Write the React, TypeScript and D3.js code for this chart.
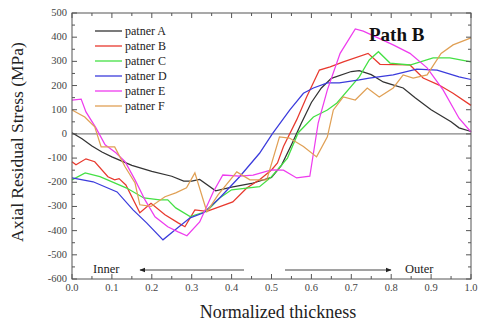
import React from "react";
import * as d3 from "d3";

type Pt = [number, number];

const seriesNames = ["patner A", "patner B", "patner C", "patner D", "patner E", "patner F"];
const seriesColors = ["#333333", "#e8392e", "#44e044", "#3b3bdc", "#ee3cee", "#e0a055"];

const patnerA: Pt[] = [[0,5],[0.025,-20],[0.05,-50],[0.075,-75],[0.1,-95],[0.15,-130],[0.2,-155],[0.25,-175],[0.28,-195],[0.3,-195],[0.32,-188],[0.36,-235],[0.4,-220],[0.45,-205],[0.5,-180],[0.525,-130],[0.55,-45],[0.575,45],[0.6,130],[0.625,190],[0.65,230],[0.7,258],[0.72,262],[0.75,245],[0.78,215],[0.8,205],[0.83,190],[0.86,150],[0.9,100],[0.95,50],[0.97,25],[1,10]];
const patnerB: Pt[] = [[0,-115],[0.01,-128],[0.035,-103],[0.057,-115],[0.09,-177],[0.107,-190],[0.118,-185],[0.135,-211],[0.17,-326],[0.198,-287],[0.233,-334],[0.266,-368],[0.283,-384],[0.308,-314],[0.338,-320],[0.403,-281],[0.438,-224],[0.47,-190],[0.5,-149],[0.515,-120],[0.53,-52],[0.563,58],[0.588,153],[0.62,264],[0.647,277],[0.68,298],[0.742,333],[0.772,288],[0.847,285],[0.88,231],[0.92,202],[0.955,168],[1,118]];
const patnerC: Pt[] = [[0,-190],[0.033,-161],[0.07,-177],[0.137,-224],[0.18,-265],[0.22,-273],[0.24,-273],[0.26,-306],[0.296,-342],[0.338,-320],[0.37,-265],[0.4,-231],[0.47,-218],[0.5,-177],[0.54,-100],[0.567,5],[0.605,70],[0.64,99],[0.664,128],[0.72,236],[0.745,306],[0.768,340],[0.797,293],[0.847,285],[0.905,314],[0.947,314],[1,298]];
const patnerD: Pt[] = [[0,-182],[0.053,-198],[0.113,-240],[0.153,-314],[0.187,-368],[0.228,-438],[0.258,-397],[0.296,-347],[0.33,-326],[0.37,-265],[0.42,-177],[0.47,-80],[0.502,0],[0.546,99],[0.58,168],[0.605,190],[0.64,211],[0.67,211],[0.72,223],[0.745,231],[0.805,244],[0.864,268],[0.915,264],[0.97,236],[1,225]];
const patnerE: Pt[] = [[0,140],[0.023,144],[0.035,91],[0.06,25],[0.083,-45],[0.11,-78],[0.133,-115],[0.158,-190],[0.183,-273],[0.208,-343],[0.24,-384],[0.266,-405],[0.288,-421],[0.32,-364],[0.354,-240],[0.378,-170],[0.42,-175],[0.454,-170],[0.5,-149],[0.53,-150],[0.563,-182],[0.596,-175],[0.617,45],[0.64,182],[0.672,333],[0.71,434],[0.73,425],[0.805,368],[0.847,333],[0.89,273],[0.93,182],[0.97,65],[1,8]];
const patnerF: Pt[] = [[0,99],[0.032,70],[0.057,29],[0.073,-54],[0.107,-54],[0.133,-136],[0.158,-203],[0.17,-293],[0.198,-300],[0.233,-260],[0.26,-244],[0.287,-223],[0.308,-161],[0.338,-322],[0.366,-252],[0.413,-157],[0.446,-190],[0.488,-190],[0.52,-12],[0.545,-17],[0.58,-52],[0.613,-95],[0.64,-12],[0.655,99],[0.68,153],[0.71,140],[0.74,190],[0.77,153],[0.805,190],[0.83,244],[0.855,231],[0.89,244],[0.925,333],[0.955,368],[1,397]];

const allSeries = [patnerA, patnerB, patnerC, patnerD, patnerE, patnerF];

const xTicks = [0, 0.1, 0.2, 0.3, 0.4, 0.5, 0.6, 0.7, 0.8, 0.9, 1.0];
const yTicks = [500, 400, 300, 200, 100, 0, -100, -200, -300, -400, -500, -600];

export default function App() {
  const W = 479, H = 326;
  const left = 72, right = 471, top = 13, bottom = 279;
  const x = d3.scaleLinear().domain([0, 1]).range([left, right]);
  const y = d3.scaleLinear().domain([-600, 500]).range([bottom, top]);
  const line = d3.line<Pt>().x(d => x(d[0])).y(d => y(d[1]));
  const font = "'Liberation Serif', 'Times New Roman', serif";
  const axisColor = "#555";

  const xMinor = d3.range(0, 1.0001, 0.05);
  const yMinor = d3.range(-600, 500.001, 50);

  return (
    <svg width={W} height={H} style={{ position: "absolute", left: 0, top: 0, background: "#fff" }} fontFamily={font}>
      <defs>
        <marker id="ah" viewBox="0 0 10 10" refX="9" refY="5" markerWidth="6" markerHeight="6" orient="auto-start-reverse">
          <path d="M0,1 L10,5 L0,9 z" fill="#222" />
        </marker>
      </defs>
      <line x1={left} x2={right} y1={y(0)} y2={y(0)} stroke="#666" strokeWidth={1} />
      {allSeries.map((s, i) => (
        <path key={i} d={line(s) || ""} fill="none" stroke={seriesColors[i]} strokeWidth={1.25} />
      ))}
      <rect x={left} y={top} width={right - left} height={bottom - top} fill="none" stroke={axisColor} strokeWidth={1} />
      {xMinor.map((t, i) => {
        const major = i % 2 === 0;
        const len = major ? 5 : 3;
        return (
          <g key={"xt" + i}>
            <line x1={x(t)} x2={x(t)} y1={bottom} y2={bottom - len} stroke={axisColor} />
            <line x1={x(t)} x2={x(t)} y1={top} y2={top + len} stroke={axisColor} />
          </g>
        );
      })}
      {yMinor.map((v, i) => {
        const major = Math.round(v) % 100 === 0;
        const len = major ? 5 : 3;
        return (
          <g key={"yt" + i}>
            <line x1={left} x2={left + len} y1={y(v)} y2={y(v)} stroke={axisColor} />
            <line x1={right} x2={right - len} y1={y(v)} y2={y(v)} stroke={axisColor} />
          </g>
        );
      })}
      {xTicks.map((t, i) => (
        <text key={"xl" + i} x={x(t)} y={291} textAnchor="middle" fontSize={10.5} fill="#444">{t.toFixed(1)}</text>
      ))}
      {yTicks.map((v, i) => (
        <text key={"yl" + i} x={67} y={y(v) + 3} textAnchor="end" fontSize={10.5} fill="#444">{v}</text>
      ))}
      <text x={278} y={318} textAnchor="middle" fontSize={18} fill="#222">Normalized thickness</text>
      <text transform={`translate(23,142) rotate(-90)`} textAnchor="middle" fontSize={17.5} fill="#222">Axial Residual Stress (MPa)</text>
      {seriesNames.map((n, i) => {
        const ly = 31 + i * 15;
        return (
          <g key={"lg" + i}>
            <line x1={95} x2={122} y1={ly} y2={ly} stroke={seriesColors[i]} strokeWidth={1.3} />
            <text x={125} y={ly + 4} fontSize={12} fill="#222">{n}</text>
          </g>
        );
      })}
      <text x={369} y={41} fontSize={19} fontWeight="bold" fill="#111">Path B</text>
      <text x={93} y={273} fontSize={12.5} fill="#222">Inner</text>
      <line x1={244} x2={140} y1={270} y2={270} stroke="#444" strokeWidth={1} markerEnd="url(#ah)" />
      <line x1={285} x2={391} y1={270} y2={270} stroke="#444" strokeWidth={1} markerEnd="url(#ah)" />
      <text x={405} y={273} fontSize={12.5} fill="#222">Outer</text>
    </svg>
  );
}
